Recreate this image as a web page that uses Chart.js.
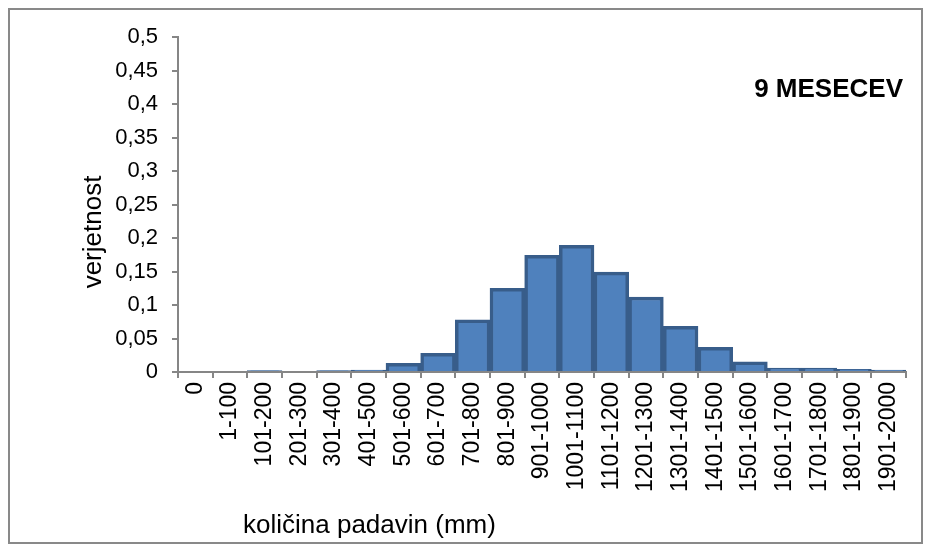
<!DOCTYPE html>
<html>
<head>
<meta charset="utf-8">
<script src="https://cdn.jsdelivr.net/npm/chart.js@4"></script>
<style>
  html, body { margin: 0; padding: 0; background: #fff; }
  #wrap { width: 931px; height: 552px; }
</style>
</head>
<body>
<div id="wrap"><canvas id="myChart" width="931" height="552"></canvas></div>
<script>
var categories = ["0", "1-100", "101-200", "201-300", "301-400", "401-500", "501-600", "601-700",
  "701-800", "801-900", "901-1000", "1001-1100", "1101-1200", "1201-1300", "1301-1400",
  "1401-1500", "1501-1600", "1601-1700", "1701-1800", "1801-1900", "1901-2000"];

var verjetnost = [0, 0, 0.002, 0, 0.002, 0.003, 0.013, 0.028,
  0.078, 0.125, 0.174, 0.189, 0.149, 0.112, 0.068,
  0.037, 0.015, 0.006, 0.006, 0.004, 0.003];

var yTicks = [0, 0.05, 0.1, 0.15, 0.2, 0.25, 0.3, 0.35, 0.4, 0.45, 0.5];

var chartTitle = "9 MESECEV";
var xTitle = "količina padavin (mm)";
var yTitle = "verjetnost";

// frame + axis titles drawn on the canvas
var extraText = {
  id: 'extraText',
  afterDraw: function(chart) {
    var ctx = chart.ctx;
    ctx.save();
    ctx.strokeStyle = "#898989";
    ctx.lineWidth = 2;
    ctx.strokeRect(9, 9, 913, 534);

    ctx.fillStyle = "#000";
    ctx.font = "bold 26px 'Liberation Sans', Arial, sans-serif";
    ctx.textAlign = "right";
    ctx.textBaseline = "alphabetic";
    ctx.fillText(chartTitle, 903, 97);

    ctx.font = "26px 'Liberation Sans', Arial, sans-serif";
    ctx.textAlign = "left";
    ctx.fillText(xTitle, 243, 533);

    ctx.translate(101, 232);
    ctx.rotate(-Math.PI / 2);
    ctx.textAlign = "center";
    ctx.fillText(yTitle, 0, 0);
    ctx.restore();
  }
};

var chart = document.getElementById("myChart");
var myChart = new Chart(chart, {
  type: 'bar',
  data: {
    labels: categories,
    datasets: [
      {
        data: verjetnost,
        backgroundColor: "#4F81BD",
        borderColor: "#385D8A",
        borderWidth: 3.5,
        categoryPercentage: 1,
        barPercentage: 1
      }
    ]
  },
  options: {
    responsive: false,
    animation: false,
    layout: { padding: { left: 0, top: 37, right: 25, bottom: 0 } },
    plugins: {
      legend: { display: false },
      tooltip: { enabled: false }
    },
    scales: {
      x: {
        afterFit: function(s) { s.height = 180; },
        grid: { offset: true, drawOnChartArea: false, tickLength: 6, color: "#868686", lineWidth: 2 },
        border: { color: "#868686", width: 2 },
        ticks: {
          autoSkip: false, maxRotation: 90, minRotation: 90, padding: 4,
          color: "#000",
          font: { family: "'Liberation Sans', Arial, sans-serif", size: 23 }
        }
      },
      y: {
        min: 0,
        max: 0.5,
        afterFit: function(s) { s.width = 178; },
        afterBuildTicks: function(s) { s.ticks = yTicks.map(function(v) { return { value: v }; }); },
        grid: { drawOnChartArea: false, tickLength: 6, color: "#868686", lineWidth: 2 },
        border: { color: "#868686", width: 2 },
        ticks: {
          padding: 14,
          color: "#000",
          font: { family: "'Liberation Sans', Arial, sans-serif", size: 22 },
          callback: function(v) { return String(Number(v.toFixed(2))).replace('.', ','); }
        }
      }
    }
  },
  plugins: [extraText]
});
</script>
</body>
</html>
